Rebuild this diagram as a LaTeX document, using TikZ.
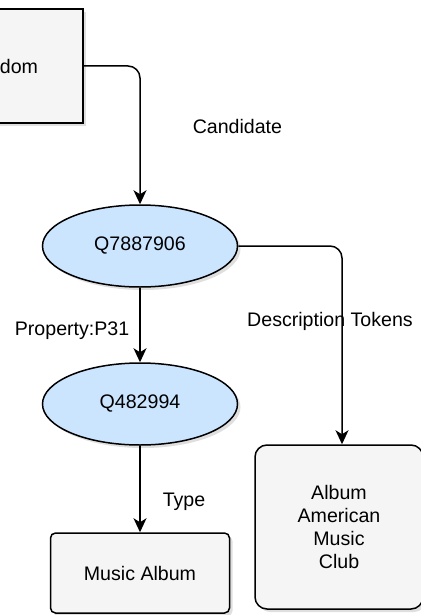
\documentclass[tikz,border=0pt]{standalone}
\usepackage{fontspec}
\setmainfont{Liberation Sans}
\usetikzlibrary{arrows.meta,positioning,shapes.geometric,shadows}
\definecolor{entityblue}{RGB}{204,229,255}
\definecolor{boxgray}{RGB}{245,245,245}

\begin{document}
\begin{tikzpicture}[
  x=0.5pt, y=-0.5pt,
  every node/.style={font=\fontsize{9.8}{11.4}\selectfont},
  softshadow/.style={drop shadow={opacity=0.25, shadow xshift=1.5pt, shadow yshift=-1.5pt}},
  entity/.style={ellipse, draw, line width=0.75pt, fill=entityblue, minimum width=97.5pt, minimum height=41pt, softshadow},
  infobox/.style={draw, line width=0.75pt, fill=boxgray, align=center, softshadow},
  link/.style={draw, line width=0.75pt, rounded corners=6pt, -{Stealth[length=7pt, width=6.5pt, inset=2pt]}},
  lbl/.style={inner sep=1pt}
]
  % Canvas (the source box is cut at the left edge)
  \useasboundingbox (0,0) rectangle (421,615);

  % Nodes
  \node[infobox, minimum width=82pt, minimum height=57pt] (rand) at (1,66) {Random};
  \node[entity] (cand) at (140,246) {Q7887906};
  \node[entity] (qtype) at (140,404) {Q482994};
  \node[infobox, rounded corners=2.5pt, minimum width=89.5pt, minimum height=40pt] (album) at (140,573) {Music Album};
  \node[infobox, rounded corners=6pt, minimum width=84pt, minimum height=82pt] (desc) at (339,527) {Album\\American\\Music\\Club};

  % Connectors
  \draw[link] (rand.east) -| node[lbl, pos=0.72, anchor=west, xshift=25pt] {Candidate} (cand.north);
  \draw[link] (cand.south) -- node[lbl, pos=0.57, anchor=east, xshift=-4pt] {Property:P31} (qtype.north);
  \draw[link] (qtype.south) -- node[lbl, pos=0.65, anchor=west, xshift=10pt] {Type} (album.north);
  \draw[link] (cand.east) -| node[lbl, pos=0.69, xshift=-6pt] {Description Tokens} ([xshift=1.5pt]desc.north);

\end{tikzpicture}
\end{document}
